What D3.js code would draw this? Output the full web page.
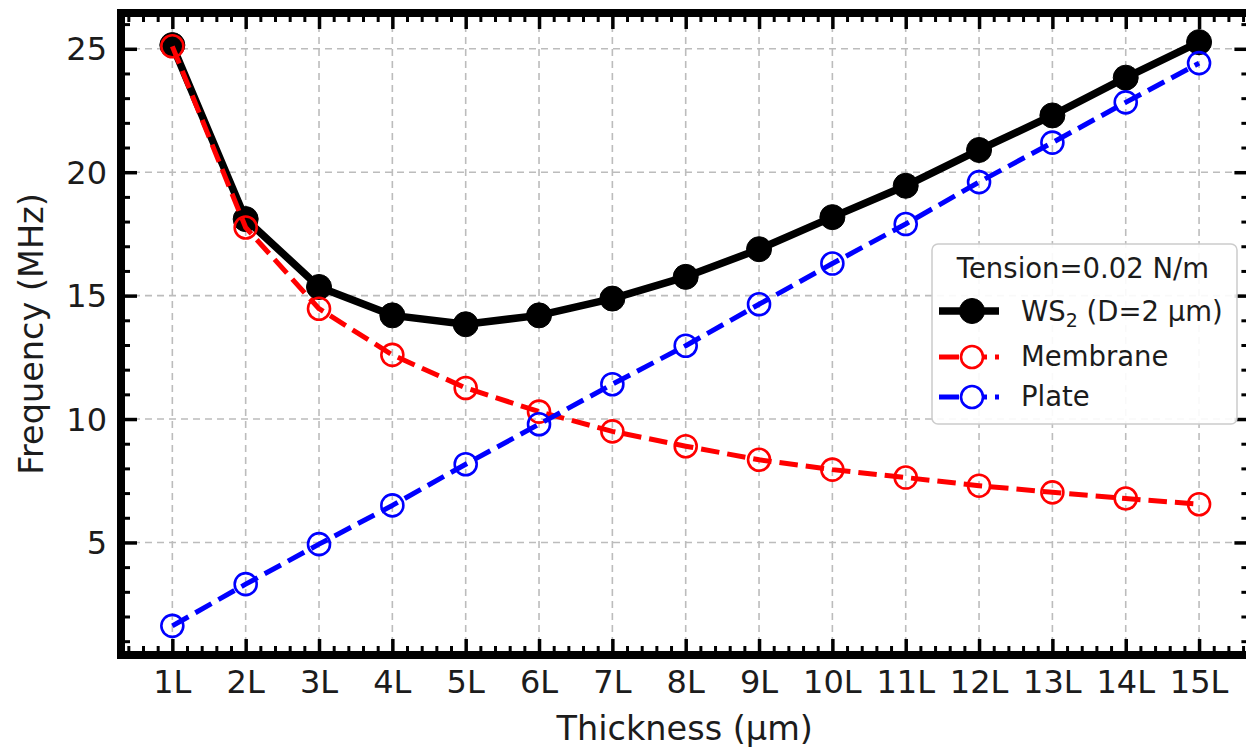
<!DOCTYPE html>
<html>
<head>
<meta charset="utf-8">
<script src="https://cdn.jsdelivr.net/npm/d3@7"></script>
<style>
  html, body { margin: 0; padding: 0; background: #fff; }
  svg { display: block; font-family: "DejaVu Sans", sans-serif; }
</style>
</head>
<body>
<svg id="chart" width="1246" height="751"></svg>
<script>
// Resonant frequency vs. number of layers
const layers = ["1L","2L","3L","4L","5L","6L","7L","8L","9L","10L","11L","12L","13L","14L","15L"];
const ws2 = [25.15, 18.1, 15.35, 14.2, 13.84, 14.2, 14.88, 15.76, 16.88, 18.18, 19.45, 20.9, 22.3, 23.83, 25.27];
const membrane = [25.1, 17.76, 14.47, 12.6, 11.26, 10.3, 9.5, 8.9, 8.35, 7.95, 7.63, 7.3, 7.03, 6.78, 6.55];
const plate = [1.62, 3.31, 4.93, 6.5, 8.17, 9.79, 11.41, 12.97, 14.65, 16.3, 17.9, 19.6, 21.2, 22.83, 24.42];
const yTicks = [5, 10, 15, 20, 25];
const xLabel = "Thickness (μm)";
const yLabel = "Frequency (MHz)";
const legendTitle = "Tension=0.02 N/m";

const svg = d3.select("#chart");

// Plot frame
const L = 121, R = 1250.4, T = 13, B = 655;
const xIdx = layers.map((d, i) => i + 1);

const x = d3.scaleLinear().domain([0.3, 15.7]).range([L, R]);
const y = d3.scaleLinear().domain([0.44, 26.45]).range([B, T]);

const ink = "#1c1c1c";
const tickFont = 32;

// Grid
const grid = svg.append("g").attr("class", "grid");
grid.selectAll("line.gx").data(xIdx).join("line")
  .attr("x1", d => x(d)).attr("x2", d => x(d))
  .attr("y1", T).attr("y2", B)
  .attr("stroke", "#bcbcbc").attr("stroke-width", 1.6)
  .attr("stroke-dasharray", "7,5");
grid.selectAll("line.gy").data(yTicks).join("line")
  .attr("y1", d => y(d)).attr("y2", d => y(d))
  .attr("x1", L).attr("x2", R)
  .attr("stroke", "#bcbcbc").attr("stroke-width", 1.6)
  .attr("stroke-dasharray", "7,5");

// Series
const series = [
  { name: "ws2", values: ws2, color: "#000", width: 7.5, dash: null, r: 12.5, filled: true },
  { name: "membrane", values: membrane, color: "#ff0000", width: 5, dash: "18.5,8", r: 11, filled: false },
  { name: "plate", values: plate, color: "#0000ff", width: 5, dash: "18.5,8", r: 11, filled: false }
];

const line = d3.line().x(d => x(d[0])).y(d => y(d[1]));

series.forEach(s => {
  const pts = xIdx.map((xi, i) => [xi, s.values[i]]);
  const g = svg.append("g").attr("class", "series-" + s.name);
  g.append("path")
    .attr("d", line(pts))
    .attr("fill", "none")
    .attr("stroke", s.color)
    .attr("stroke-width", s.width)
    .attr("stroke-linejoin", "round")
    .attr("stroke-dasharray", s.dash);
  g.selectAll("circle").data(pts).join("circle")
    .attr("cx", d => x(d[0])).attr("cy", d => y(d[1]))
    .attr("r", s.r)
    .attr("fill", s.filled ? s.color : "none")
    .attr("stroke", s.color)
    .attr("stroke-width", s.filled ? 1 : 2.6);
});

// Axes: inward ticks on all four sides
const majorLen = 16, minorLen = 9;
const xMinor = d3.range(0.4, 15.7, 0.2).filter(v => Math.abs(v - Math.round(v)) > 1e-6);
const yMinor = d3.range(1, 27, 1).filter(v => v % 5 !== 0);

function addAxis(axisGen, transform, vals, len, width) {
  const g = svg.append("g").attr("transform", transform)
    .call(axisGen.tickValues(vals).tickSize(-len).tickFormat(""));
  g.select(".domain").remove();
  g.selectAll(".tick line").attr("stroke", "#000").attr("stroke-width", width);
  return g;
}
// bottom / top
addAxis(d3.axisBottom(x), `translate(0,${B})`, xMinor, minorLen, 3);
addAxis(d3.axisBottom(x), `translate(0,${B})`, xIdx, majorLen, 3.5);
addAxis(d3.axisTop(x), `translate(0,${T})`, xMinor, minorLen, 3);
addAxis(d3.axisTop(x), `translate(0,${T})`, xIdx, majorLen, 3.5);
// left / right
addAxis(d3.axisLeft(y), `translate(${L},0)`, yMinor, minorLen, 3);
addAxis(d3.axisLeft(y), `translate(${L},0)`, yTicks, majorLen, 3.5);
addAxis(d3.axisRight(y), `translate(${R},0)`, yMinor, minorLen, 3);
addAxis(d3.axisRight(y), `translate(${R},0)`, yTicks, majorLen, 3.5);

// Frame
svg.append("rect")
  .attr("x", L).attr("y", T).attr("width", R - L).attr("height", B - T)
  .attr("fill", "none").attr("stroke", "#000").attr("stroke-width", 8);

// Tick labels
svg.append("g").selectAll("text").data(xIdx).join("text")
  .attr("x", d => x(d)).attr("y", 693)
  .attr("text-anchor", "middle")
  .attr("font-size", tickFont).attr("fill", ink)
  .text((d, i) => layers[i]);

svg.append("g").selectAll("text").data(yTicks).join("text")
  .attr("x", 107).attr("y", d => y(d) + 11.5)
  .attr("text-anchor", "end")
  .attr("font-size", tickFont).attr("fill", ink)
  .text(d => d);

// Axis titles
svg.append("text")
  .attr("x", (L + R) / 2 - 1).attr("y", 740)
  .attr("text-anchor", "middle")
  .attr("font-size", 33.5).attr("fill", ink)
  .text(xLabel);

svg.append("text")
  .attr("transform", `translate(43,${(T + B) / 2}) rotate(-90)`)
  .attr("text-anchor", "middle")
  .attr("font-size", 33.5).attr("fill", ink)
  .text(yLabel);

// Legend
const legendFont = 27.5;
const lg = svg.append("g").attr("class", "legend");
lg.append("rect")
  .attr("x", 932).attr("y", 244).attr("width", 305).attr("height", 180)
  .attr("rx", 6).attr("ry", 6)
  .attr("fill", "#fff").attr("fill-opacity", 0.9)
  .attr("stroke", "#cccccc").attr("stroke-width", 1.5);

lg.append("text")
  .attr("x", 1083).attr("y", 278)
  .attr("text-anchor", "middle")
  .attr("font-size", legendFont).attr("fill", ink)
  .text(legendTitle);

const legendRows = [
  { s: series[0], cy: 311, base: 321 },
  { s: series[1], cy: 357, base: 366 },
  { s: series[2], cy: 397, base: 406 }
];
legendRows.forEach(row => {
  const s = row.s;
  lg.append("line")
    .attr("x1", 939).attr("x2", 999)
    .attr("y1", row.cy).attr("y2", row.cy)
    .attr("stroke", s.color).attr("stroke-width", s.width)
    .attr("stroke-dasharray", s.dash ? "20,8" : null);
  lg.append("circle")
    .attr("cx", 972).attr("cy", row.cy).attr("r", s.r)
    .attr("fill", s.filled ? s.color : "#fff")
    .attr("stroke", s.color).attr("stroke-width", s.filled ? 1 : 2.6);
});

const ws2Label = lg.append("text")
  .attr("x", 1021).attr("y", 321)
  .attr("font-size", legendFont).attr("fill", ink);
ws2Label.append("tspan").text("WS");
ws2Label.append("tspan").attr("font-size", 19).attr("dy", 6).text("2");
ws2Label.append("tspan").attr("dy", -6).text(" (D=2 μm)");

lg.append("text").attr("x", 1021).attr("y", 366)
  .attr("font-size", legendFont).attr("fill", ink).text("Membrane");
lg.append("text").attr("x", 1021).attr("y", 406)
  .attr("font-size", legendFont).attr("fill", ink).text("Plate");
</script>
</body>
</html>
